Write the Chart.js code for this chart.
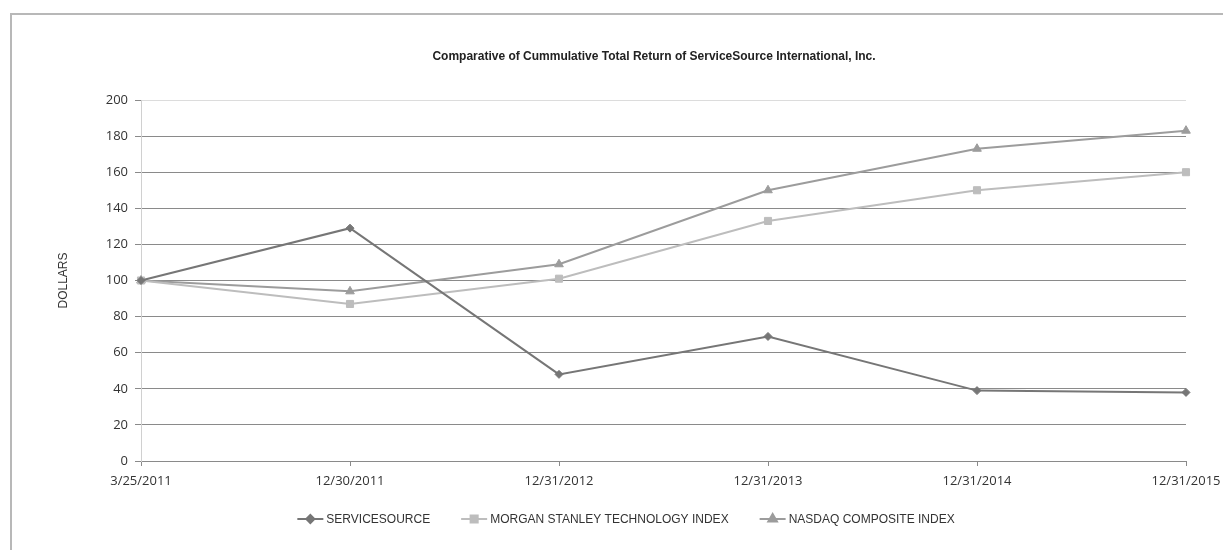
<!DOCTYPE html>
<html>
<head>
<meta charset="utf-8">
<script src="https://cdn.jsdelivr.net/npm/chart.js@4/dist/chart.umd.min.js"></script>
<style>
  html, body { margin: 0; padding: 0; background: #fff; overflow: hidden; }
  #wrap { position: relative; width: 1223px; height: 550px; overflow: hidden; }
  #frame { position: absolute; left: 10px; top: 13px; right: -10px; bottom: -10px;
           border-left: 2px solid #b8b8b8; border-top: 2px solid #b8b8b8; }
  #c { position: absolute; left: 0; top: 0; }
</style>
</head>
<body>
<div id="wrap">
  <div id="frame"></div>
  <canvas id="c" width="1240" height="550"></canvas>
</div>
<script>
// values
const dates = ['3/25/2011', '12/30/2011', '12/31/2012', '12/31/2013', '12/31/2014', '12/31/2015'];
const serviceSource = [100, 129, 48, 69, 39, 38];
const morganStanley = [100, 87, 101, 133, 150, 160];
const nasdaq = [100, 94, 109, 150, 173, 183];
const yTicks = [0, 20, 40, 60, 80, 100, 120, 140, 160, 180, 200];

const seriesNames = ['SERVICESOURCE', 'MORGAN STANLEY TECHNOLOGY INDEX', 'NASDAQ COMPOSITE INDEX'];
const chartTitle = 'Comparative of Cummulative Total Return of ServiceSource International, Inc.';
const colors = ['#767676', '#bdbdbd', '#9c9c9c'];
const markers = ['rectRot', 'rect', 'triangle'];
const markerSize = [4, 5, 5];

const labelFont = { family: 'Open Sans', size: 13 };

// title sits a bit right of the canvas middle, like the original
const topTitle = {
  id: 'topTitle',
  afterDraw(chart) {
    const ctx = chart.ctx;
    ctx.save();
    ctx.font = 'bold 12px "Liberation Sans"';
    ctx.fillStyle = '#222';
    ctx.textAlign = 'center';
    ctx.textBaseline = 'middle';
    ctx.fillText(chartTitle, 654, 57);
    ctx.restore();
  }
};

// legend: line with marker in the middle, then the name
const lineLegend = {
  id: 'lineLegend',
  afterDraw(chart) {
    const ctx = chart.ctx;
    const y = 519;
    const lineW = 26, gapText = 3, gapItem = 31;
    ctx.save();
    ctx.font = '12px "Liberation Sans"';
    let widths = seriesNames.map(n => lineW + gapText + ctx.measureText(n).width);
    let total = widths.reduce((a, b) => a + b, 0) + gapItem * (seriesNames.length - 1);
    let x = 626 - total / 2;
    chart.data.datasets.forEach((ds, i) => {
      ctx.strokeStyle = ds.borderColor;
      ctx.lineWidth = 2;
      ctx.beginPath();
      ctx.moveTo(x, y);
      ctx.lineTo(x + lineW, y);
      ctx.stroke();
      Chart.helpers.drawPoint(ctx, {
        pointStyle: ds.pointStyle, radius: ds.pointRadius, rotation: 0, borderWidth: 1
      }, x + lineW / 2, y);
      ctx.fillStyle = ds.borderColor;
      ctx.fill();
      ctx.fillStyle = '#333';
      ctx.textBaseline = 'middle';
      ctx.textAlign = 'left';
      ctx.fillText(seriesNames[i], x + lineW + gapText, y + 1);
      x += widths[i] + gapItem;
    });
    ctx.restore();
  }
};

const values = [serviceSource, morganStanley, nasdaq];

new Chart(document.getElementById('c'), {
  type: 'line',
  data: {
    labels: dates,
    datasets: values.map((v, i) => ({
      label: seriesNames[i],
      data: v,
      borderColor: colors[i],
      backgroundColor: colors[i],
      borderWidth: 2,
      pointStyle: markers[i],
      pointRadius: markerSize[i],
      pointBorderWidth: 1,
      tension: 0,
      fill: false
    }))
  },
  options: {
    responsive: false,
    animation: false,
    devicePixelRatio: 1,
    layout: { padding: { left: 0, right: 54, top: 100, bottom: 0 } },
    plugins: {
      legend: { display: false },
      tooltip: { enabled: false },
      title: { display: false }
    },
    scales: {
      x: {
        offset: false,
        grid: { display: true, drawOnChartArea: false, drawTicks: true, tickLength: 5, color: '#8a8a8a' },
        border: { display: true, color: '#8a8a8a', width: 1 },
        ticks: { color: '#333', font: labelFont, padding: 7, maxRotation: 0, autoSkip: false },
        afterFit(scale) { scale.height = 89; }
      },
      y: {
        min: 0,
        max: 200,
        afterBuildTicks(scale) { scale.ticks = yTicks.map(v => ({ value: v })); },
        grid: {
          color: ctx => (ctx.tick && ctx.tick.value === 200) ? '#dcdcdc' : '#8a8a8a',
          tickColor: '#8a8a8a',
          tickLength: 6,
          lineWidth: 1
        },
        border: { display: true, color: '#d0d0d0', width: 1 },
        ticks: { color: '#333', font: labelFont, padding: 7 },
        title: {
          display: true,
          text: 'DOLLARS',
          color: '#333',
          font: { family: 'Liberation Sans', size: 12 },
          padding: { top: 56, bottom: 0 }
        },
        afterFit(scale) { scale.width = 141; }
      }
    }
  },
  plugins: [topTitle, lineLegend]
});
</script>
</body>
</html>
